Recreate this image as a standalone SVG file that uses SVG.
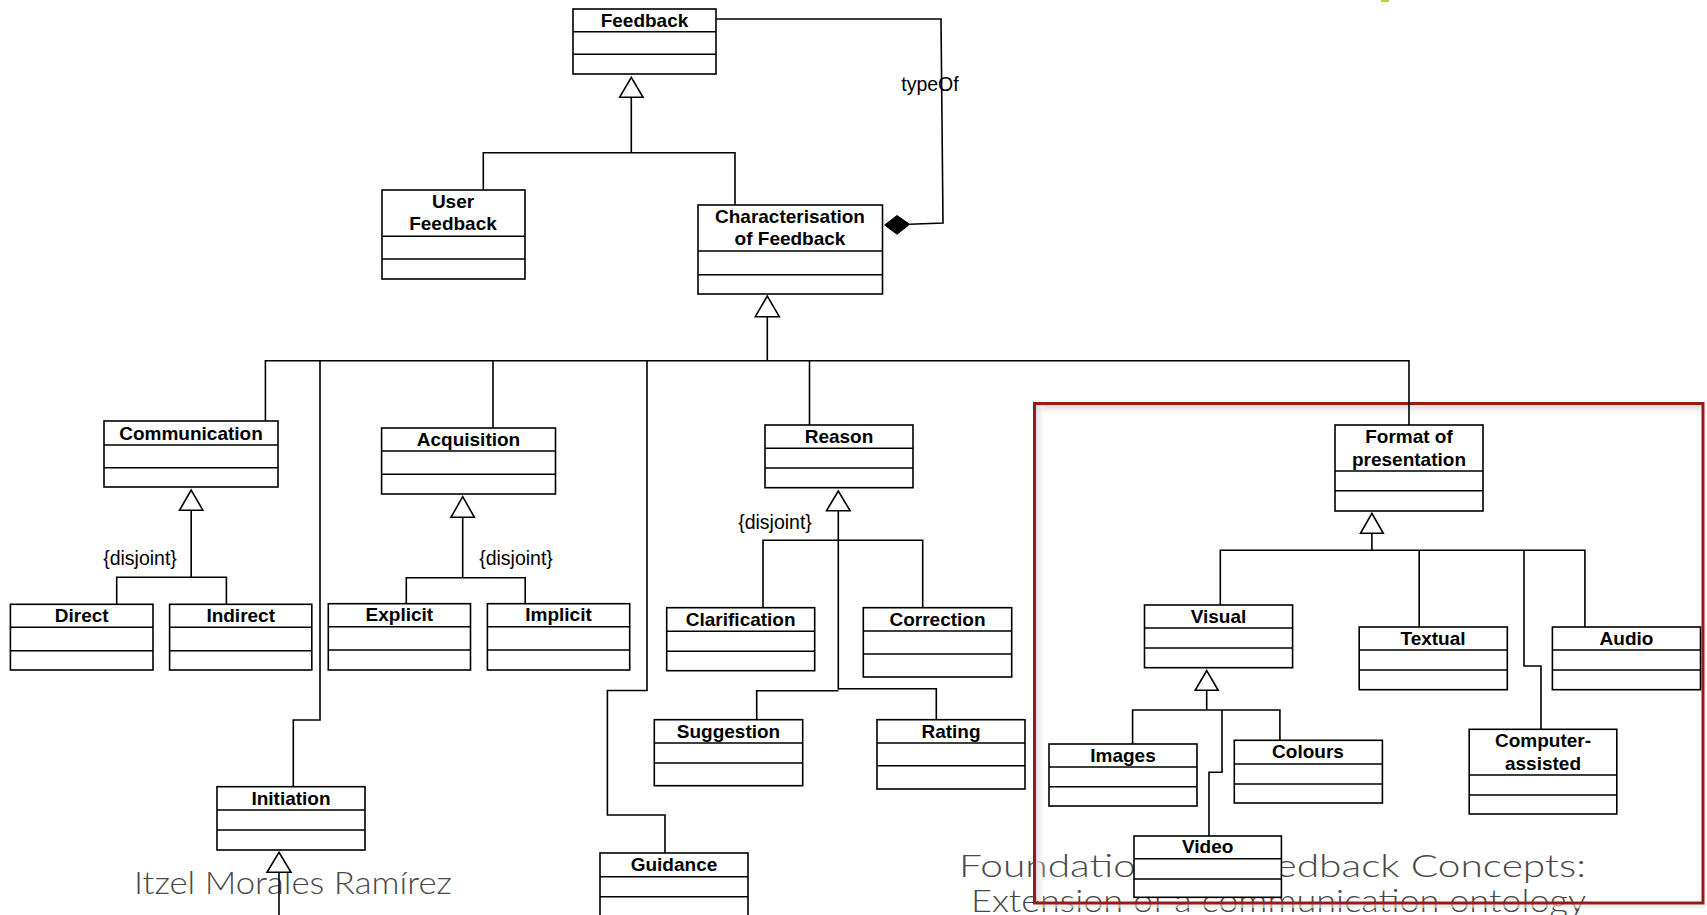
<svg xmlns="http://www.w3.org/2000/svg" width="1707" height="915" viewBox="0 0 1707 915">
<style>
.box{fill:#fff;stroke:#000;stroke-width:1.6}
.div{stroke:#000;stroke-width:1.6}
.t{font-family:"Liberation Sans",Arial,sans-serif;font-weight:bold;font-size:19px;text-anchor:middle;fill:#000}
.lbl{font-family:"Liberation Sans",Arial,sans-serif;font-size:19.5px;text-anchor:middle;fill:#000}
.con{fill:none;stroke:#000;stroke-width:1.6}
.gen{fill:#fff;stroke:#000;stroke-width:1.6}
.foot{font-family:Lato,"Liberation Sans",Arial,sans-serif;font-weight:300;font-size:32px;fill:#484848}
</style>
<defs>
<linearGradient id="shT" x1="0" y1="0" x2="0" y2="1"><stop offset="0" stop-color="#d8d8d8"/><stop offset="1" stop-color="#fff" stop-opacity="0"/></linearGradient>
<linearGradient id="shL" x1="0" y1="0" x2="1" y2="0"><stop offset="0" stop-color="#d8d8d8"/><stop offset="1" stop-color="#fff" stop-opacity="0"/></linearGradient>
</defs>
<rect width="1707" height="915" fill="#fff"/>
<rect x="1381" y="0" width="8" height="2" fill="#b8d430"/>

<g id="footer">
<text class="foot" x="134" y="894" font-size="31" textLength="318" lengthAdjust="spacingAndGlyphs">Itzel Morales Ramírez</text>
<text class="foot" x="959" y="877" textLength="627" lengthAdjust="spacingAndGlyphs">Foundations of Feedback Concepts:</text>
<text class="foot" x="971" y="912" textLength="615" lengthAdjust="spacingAndGlyphs">Extension of a communication ontology</text>
</g>

<g id="frame">
<rect x="1036" y="405" width="666" height="12" fill="url(#shT)"/>
<rect x="1036" y="405" width="10" height="496" fill="url(#shL)"/>
<rect x="1037" y="904" width="668" height="4" fill="#e6e6e6" opacity="0.6"/>
<rect x="1034.5" y="403.5" width="668.5" height="499.5" fill="none" stroke="#971c14" stroke-width="3"/>
</g>

<g id="connectors">
<path class="con" d="M631.3 97.3V152.7M483.3 190V152.7H735V205.3"/>
<polygon class="gen" points="631.3,77.3 619.6,97.3 643,97.3"/>
<path class="con" d="M716 19H941L943 223L909.6 224.3"/>
<polygon points="884.6,225 897,215.5 909.6,224.3 897,234.3" fill="#000" stroke="#000" stroke-width="1"/>
<text class="lbl" x="930" y="90.5" font-size="20">typeOf</text>
<path class="con" d="M767.3 316.7V360.7M265.4 421V360.7H1409V425M320 360.7V720H293.3V786.7M493 360.7V428M647 360.7V690.5H607.4V815H665V853M809.5 360.7V425"/>
<polygon class="gen" points="767.3,296 755.3,316.7 779.3,316.7"/>
<path class="con" d="M191.2 510.3V577.3M116.7 604.3V577.3H226.4V604.3"/>
<polygon class="gen" points="191.2,490 179.5,510.3 202.9,510.3"/>
<text class="lbl" x="140" y="565">{disjoint}</text>
<path class="con" d="M462.7 517.3V577.7M406.3 603.7V577.7H525.2V603.7"/>
<polygon class="gen" points="462.7,496.7 451,517.3 474.4,517.3"/>
<text class="lbl" x="516" y="565">{disjoint}</text>
<path class="con" d="M838.3 510.7V689.7M763 607.7V540.3H922.7V607.7M756.7 719.7V690.7H838.3M838.3 688.7H936.3V719.7"/>
<polygon class="gen" points="838.3,491 826.5,510.7 850.1,510.7"/>
<text class="lbl" x="775" y="529">{disjoint}</text>
<path class="con" d="M279 872.3V915"/>
<polygon class="gen" points="279,852.3 267,872.3 291,872.3"/>
<path class="con" d="M1371.9 533.3V550.3M1220.3 605V550.3H1584.9V627M1419.2 550.3V627M1524 550.3V666H1541V729.3"/>
<polygon class="gen" points="1371.9,513.3 1360.5,533.3 1383.3,533.3"/>
<path class="con" d="M1206.7 690.3V710M1132.6 744V710H1279.9V740.3M1222 710V772.3H1209V836"/>
<polygon class="gen" points="1206.7,670.7 1195.2,690.3 1218.2,690.3"/>
</g>

<g id="feedback"><rect class="box" x="573" y="9" width="143" height="65"/><path class="div" d="M573 31.7H716M573 54.3H716"/><text class="t" x="644.5" y="27">Feedback</text></g>
<g id="user-feedback"><rect class="box" x="382" y="190" width="143" height="89"/><path class="div" d="M382 236.3H525M382 259H525"/><text class="t" x="453" y="207.5">User</text><text class="t" x="453" y="230">Feedback</text></g>
<g id="characterisation"><rect class="box" x="698" y="205" width="184.5" height="89"/><path class="div" d="M698 251H882.5M698 274.7H882.5"/><text class="t" x="790" y="222.5">Characterisation</text><text class="t" x="790" y="245">of Feedback</text></g>
<g id="communication"><rect class="box" x="104" y="421" width="174" height="66"/><path class="div" d="M104 445H278M104 467.7H278"/><text class="t" x="191" y="439.5">Communication</text></g>
<g id="acquisition"><rect class="box" x="381.6" y="428" width="173.9" height="66"/><path class="div" d="M381.6 451H555.5M381.6 474.3H555.5"/><text class="t" x="468.5" y="446">Acquisition</text></g>
<g id="reason"><rect class="box" x="765" y="425" width="148" height="62.7"/><path class="div" d="M765 448.3H913M765 468H913"/><text class="t" x="839" y="442.7">Reason</text></g>
<g id="format"><rect class="box" x="1335" y="425" width="148" height="86"/><path class="div" d="M1335 471H1483M1335 490.7H1483"/><text class="t" x="1409" y="443.3">Format of</text><text class="t" x="1409" y="466">presentation</text></g>
<g id="direct"><rect class="box" x="10.4" y="604.3" width="142.6" height="65.7"/><path class="div" d="M10.4 627.3H153M10.4 650.7H153"/><text class="t" x="81.7" y="621.7">Direct</text></g>
<g id="indirect"><rect class="box" x="169.6" y="604.3" width="142.2" height="65.7"/><path class="div" d="M169.6 627.3H311.8M169.6 650.7H311.8"/><text class="t" x="240.7" y="621.7">Indirect</text></g>
<g id="explicit"><rect class="box" x="328.3" y="603.7" width="142.2" height="66.3"/><path class="div" d="M328.3 626.7H470.5M328.3 650H470.5"/><text class="t" x="399.4" y="621">Explicit</text></g>
<g id="implicit"><rect class="box" x="487.4" y="603.7" width="142.3" height="66.3"/><path class="div" d="M487.4 626.7H629.7M487.4 650H629.7"/><text class="t" x="558.5" y="621">Implicit</text></g>
<g id="clarification"><rect class="box" x="666.7" y="607.7" width="148" height="63"/><path class="div" d="M666.7 631.3H814.7M666.7 651.3H814.7"/><text class="t" x="740.7" y="626">Clarification</text></g>
<g id="correction"><rect class="box" x="863.3" y="607.7" width="148.4" height="69.3"/><path class="div" d="M863.3 631H1011.7M863.3 654H1011.7"/><text class="t" x="937.5" y="626">Correction</text></g>
<g id="suggestion"><rect class="box" x="654.3" y="719.7" width="148.4" height="66"/><path class="div" d="M654.3 743H802.7M654.3 763H802.7"/><text class="t" x="728.5" y="738.3">Suggestion</text></g>
<g id="rating"><rect class="box" x="877" y="719.7" width="148" height="69.3"/><path class="div" d="M877 743H1025M877 765.7H1025"/><text class="t" x="951" y="738.3">Rating</text></g>
<g id="initiation"><rect class="box" x="217" y="786.7" width="148" height="63.3"/><path class="div" d="M217 810H365M217 830H365"/><text class="t" x="291" y="804.5">Initiation</text></g>
<g id="guidance"><rect class="box" x="600" y="853" width="148" height="80"/><path class="div" d="M600 876.7H748M600 896.7H748"/><text class="t" x="674" y="871">Guidance</text></g>
<g id="visual"><rect class="box" x="1144.5" y="605" width="148.1" height="62.7"/><path class="div" d="M1144.5 628H1292.6M1144.5 648H1292.6"/><text class="t" x="1218.5" y="622.7">Visual</text></g>
<g id="textual"><rect class="box" x="1359.2" y="627" width="148.1" height="62.7"/><path class="div" d="M1359.2 650H1507.3M1359.2 670H1507.3"/><text class="t" x="1433" y="645">Textual</text></g>
<g id="audio"><rect class="box" x="1552.4" y="627" width="148.1" height="62.7"/><path class="div" d="M1552.4 650H1700.5M1552.4 670H1700.5"/><text class="t" x="1626.5" y="645">Audio</text></g>
<g id="computer-assisted"><rect class="box" x="1469.2" y="729.3" width="147.6" height="84.7"/><path class="div" d="M1469.2 775H1616.8M1469.2 795H1616.8"/><text class="t" x="1543" y="747.3">Computer-</text><text class="t" x="1543" y="770">assisted</text></g>
<g id="images"><rect class="box" x="1049" y="744" width="148" height="62"/><path class="div" d="M1049 767H1197M1049 786.7H1197"/><text class="t" x="1123" y="761.7">Images</text></g>
<g id="colours"><rect class="box" x="1234.3" y="740.3" width="148.1" height="62.7"/><path class="div" d="M1234.3 764H1382.4M1234.3 784H1382.4"/><text class="t" x="1308" y="757.7">Colours</text></g>
<g id="video"><rect class="box" x="1134" y="836" width="147.4" height="61.3"/><path class="div" d="M1134 858.7H1281.4M1134 879H1281.4"/><text class="t" x="1207.7" y="853.3">Video</text></g>
</svg>
